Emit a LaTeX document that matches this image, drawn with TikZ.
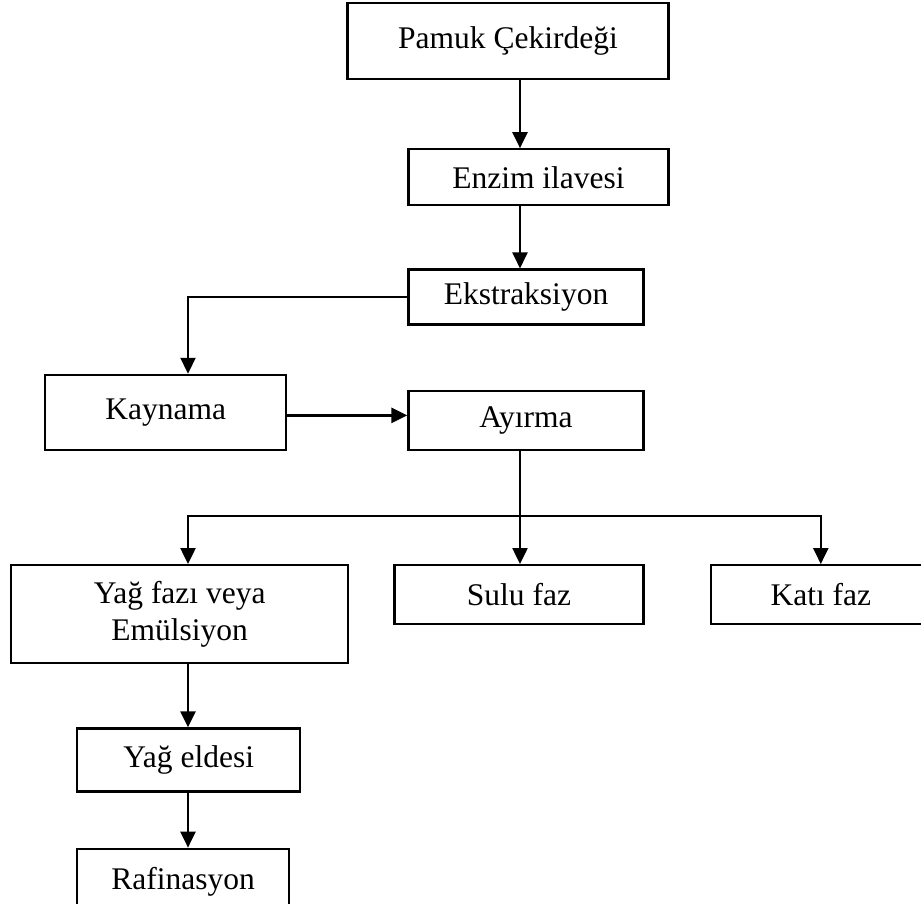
\documentclass[tikz,border=0pt]{standalone}
\usepackage{fontspec}
\setmainfont{Liberation Serif}
\usetikzlibrary{arrows.meta,positioning,calc}

\begin{document}
\begin{tikzpicture}[x=1pt,y=-1pt,->,>={Triangle[length=16pt,width=15pt]},line width=2.3pt,
		box/.style={draw,rectangle,inner sep=2pt,font=\fontsize{31.5}{37}\selectfont,align=center}]
		\useasboundingbox (0,0) rectangle (921,904);
		\coordinate (spine)   at (520,0);
		\coordinate (leftcol) at (188,0);
		\node[box,minimum width=321pt,minimum height=76pt] (Pamuk) at (508,41) {Pamuk Çekirdeği};
		\node[box,minimum width=260pt,minimum height=56pt] (Enzim)  [below=68pt of Pamuk.south east,anchor=north east] {Enzim ilavesi};
		\node[box,minimum width=235pt,minimum height=55pt] (Ekstraksiyon) [below=62pt of Enzim.south west,anchor=north west] {Ekstraksiyon};
		\node[box,minimum width=235pt,minimum height=59pt] (Ayirma) [below=64pt of Ekstraksiyon.south west,anchor=north west] {Ayırma};
		\node[box,minimum width=241pt,minimum height=75pt] (Kaynama) [left=120pt of Ayirma.south west,anchor=south east] {Kaynama};
		\node[box,minimum width=249pt,minimum height=59pt] (Sulu) [below=113pt of Ayirma.south east,anchor=north east] {Sulu faz};
		\node[box,minimum width=337pt,minimum height=98pt] (Yag) [left=44pt of Sulu.north west,anchor=north east] {Yağ fazı veya\\Emülsiyon};
		\node[box,minimum width=220pt,minimum height=59pt] (Kati) [right=65pt of Sulu.north east,anchor=north west] {Katı faz};
		\node[box,minimum width=223pt,minimum height=63pt] (Eldesi) [below=63pt of Yag.south,anchor=north,xshift=9pt] {Yağ eldesi};
		\node[box,minimum width=212pt,minimum height=66pt] (Rafinasyon) [below=55pt of Eldesi.south west,anchor=north west] {Rafinasyon};
		\coordinate (split) at ($(Ayirma.south -| spine)+(0,65)$);
		\draw (Pamuk.south -| spine) -- (Enzim.north -| spine);
		\draw (Enzim.south -| spine) -- (Ekstraksiyon.north -| spine);
		\draw (Ekstraksiyon.west) -| (Kaynama.north -| leftcol);
		\draw[line width=2.8pt] ([yshift=-3pt]Kaynama.east) -- ([yshift=-3pt]Kaynama.east -| Ayirma.west);
		\draw[-] (Ayirma.south -| spine) -- (split);
		\draw (split) -| (Yag.north -| leftcol);
		\draw (split) -- (Sulu.north -| spine);
		\draw (split) -| (Kati.north);
		\draw (Yag.south -| leftcol) -- (Eldesi.north -| leftcol);
		\draw (Eldesi.south -| leftcol) -- (Rafinasyon.north -| leftcol);
\end{tikzpicture}
\end{document}
